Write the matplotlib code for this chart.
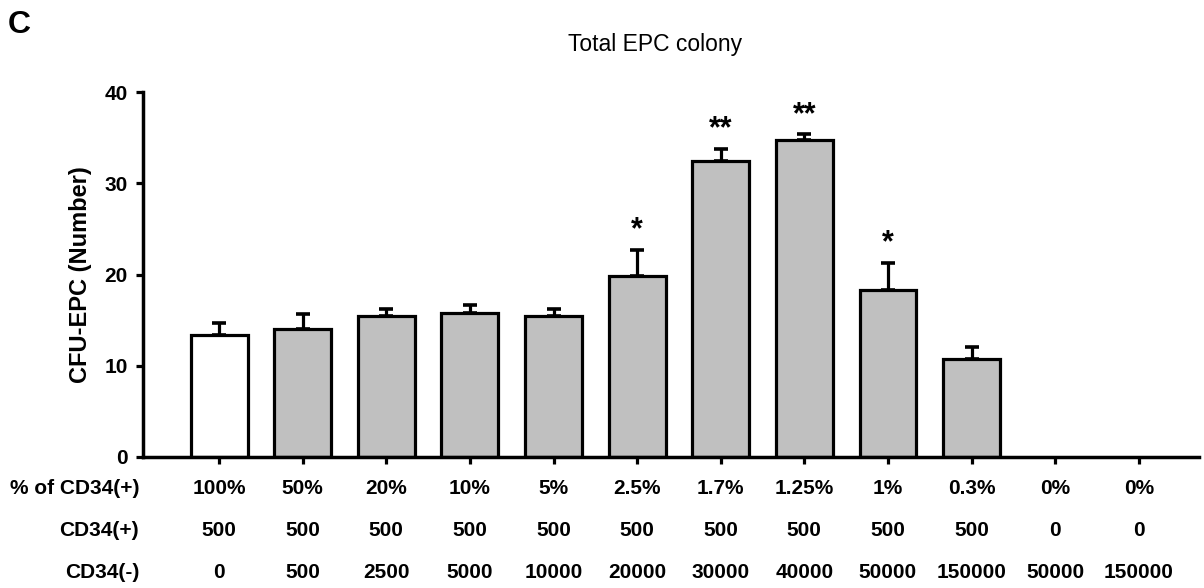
import matplotlib
matplotlib.use('Agg')
import matplotlib.pyplot as plt
from matplotlib.transforms import blended_transform_factory

# Data
pct_labels = ['100%', '50%', '20%', '10%', '5%', '2.5%', '1.7%', '1.25%',
              '1%', '0.3%', '0%', '0%']
pos_labels = ['500', '500', '500', '500', '500', '500', '500', '500',
              '500', '500', '0', '0']
neg_labels = ['0', '500', '2500', '5000', '10000', '20000', '30000', '40000',
              '50000', '150000', '50000', '150000']
means = [13.4, 14.0, 15.4, 15.8, 15.4, 19.8, 32.4, 34.7, 18.3, 10.7, 0, 0]
errs = [1.3, 1.7, 0.8, 0.9, 0.8, 2.9, 1.4, 0.7, 3.0, 1.4, 0, 0]
stars = ['', '', '', '', '', '*', '**', '**', '*', '', '', '']

sans = ['Liberation Sans', 'DejaVu Sans']

fig = plt.figure(figsize=(12.04, 5.88), dpi=100)
ax = fig.add_axes([0.1188, 0.2228, 0.877, 0.6207])

x = list(range(len(means)))
colors = ['white'] + ['#c0c0c0'] * (len(means) - 1)
# empty groups get no outline
lws = [2.3 if m > 0 else 0 for m in means]
ax.bar(x, means, width=0.68, color=colors, edgecolor='black',
       linewidth=lws, zorder=2)

# upper error bars only, skip empty groups
ex = [i for i in x if errs[i] > 0]
ax.errorbar(ex, [means[i] for i in ex],
            yerr=[[0] * len(ex), [errs[i] for i in ex]],
            fmt='none', ecolor='black', elinewidth=2.3, capsize=5,
            capthick=2.6, zorder=1)

for i in x:
    if stars[i]:
        ax.annotate(stars[i], (i, means[i] + errs[i]), xytext=(0, 3),
                    textcoords='offset points', ha='center', va='bottom',
                    fontsize=22, fontweight='bold', family=sans)

ax.set_xlim(-0.91, 11.72)
ax.set_ylim(0, 40)
ax.set_yticks([0, 10, 20, 30, 40])
ax.set_yticklabels(['0', '10', '20', '30', '40'], fontsize=15,
                   fontweight='bold', family=sans)
ax.set_xticks(x)
ax.set_xticklabels([''] * len(x))
ax.tick_params(axis='y', direction='out', length=5, width=2.3, pad=6)
ax.tick_params(axis='x', direction='out', length=5, width=2.3)
for s in ['top', 'right']:
    ax.spines[s].set_visible(False)
for s in ['left', 'bottom']:
    ax.spines[s].set_linewidth(2.5)

ax.set_ylabel('CFU-EPC (Number)', fontsize=17, fontweight='bold',
              family=sans)
ax.yaxis.set_label_coords(-0.0483, 0.5)

# table rows under the axis
tr = blended_transform_factory(ax.transData, fig.transFigure)
rows = [(pct_labels, '% of CD34(+)', 1 - 488 / 588),
        (pos_labels, 'CD34(+)', 1 - 530 / 588),
        (neg_labels, 'CD34(-)', 1 - 572 / 588)]
for labels, head, yy in rows:
    for i, lab in enumerate(labels):
        ax.text(i, yy, lab, transform=tr, ha='center', va='center',
                fontsize=15, fontweight='bold', family=sans)
    fig.text(139 / 1204, yy, head, ha='right', va='center', fontsize=15,
             fontweight='bold', family=sans)

fig.text(655 / 1204, 1 - 45 / 588, 'Total EPC colony', ha='center',
         va='center', fontsize=16.5, family=sans)
fig.text(8 / 1204, 1 - 25 / 588, 'C', ha='left', va='center', fontsize=23,
         fontweight='bold', family=sans)

fig.savefig('out.png', dpi=100)
